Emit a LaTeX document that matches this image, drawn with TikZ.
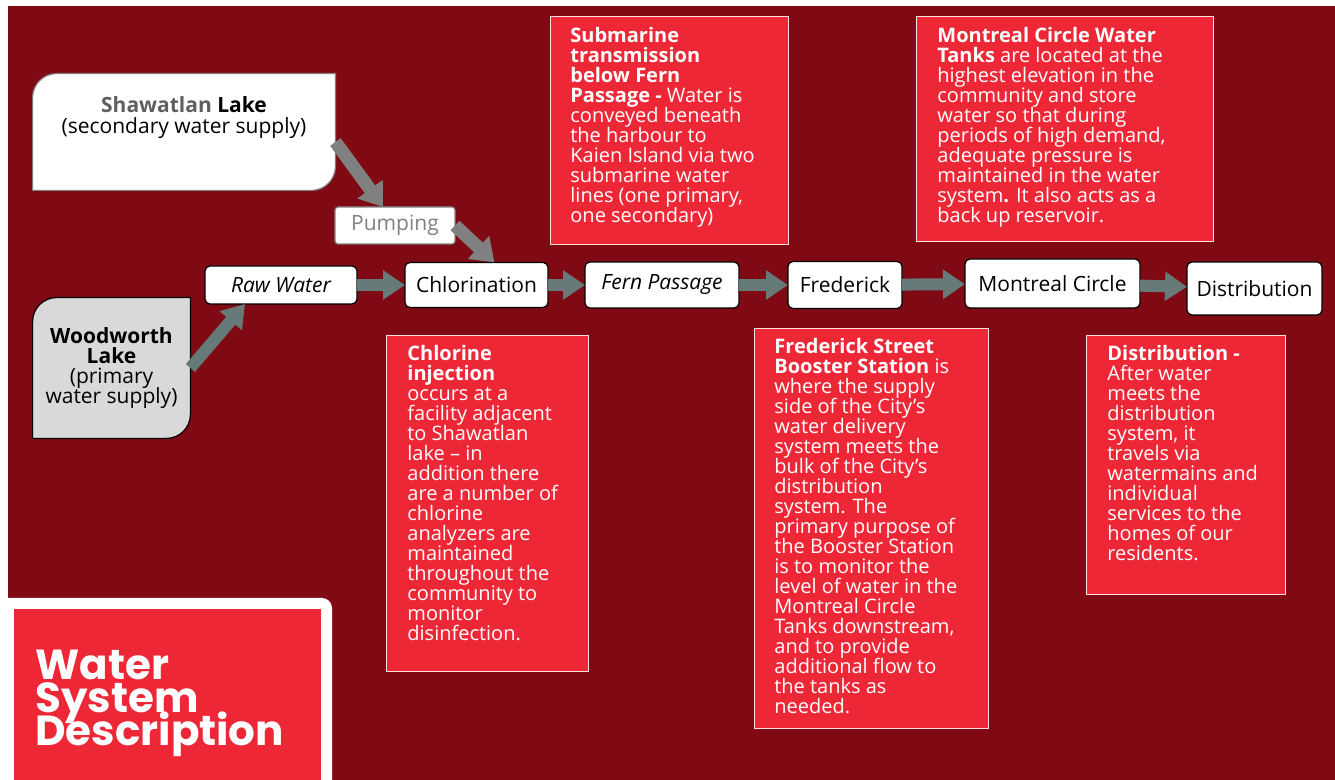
\documentclass[tikz,border=0pt]{standalone}
\usepackage{fontspec}
\setmainfont{Open Sans}
\newfontfamily\titlefont{Poppins}
\usetikzlibrary{arrows.meta, positioning}
\definecolor{bgred}{RGB}{128,10,20}
\definecolor{notered}{RGB}{238,39,55}
\definecolor{flowgray}{RGB}{102,123,121}
\definecolor{pumpgray}{RGB}{128,128,128}
\definecolor{lakegray}{RGB}{217,217,217}
\definecolor{namegray}{RGB}{95,95,95}
\newcommand{\tightlines}{\setlength{\lineskiplimit}{-20pt}}

\begin{document}
\begin{tikzpicture}[x=0.5pt, y=-0.5pt,
    flow/.style={draw=black, line width=0.6pt, fill=white, rounded corners=2.5pt, inner sep=0pt, outer sep=0pt, font=\fontsize{10.5}{12}\selectfont},
    flowarrow/.style={draw=flowgray, line width=6pt, -{Triangle[length=11pt, width=14pt]}},
    pumparrow/.style={draw=pumpgray, line width=6.5pt, -{Triangle[length=11pt, width=15pt]}},
    notebox/.style={draw=white!85!notered, line width=0.6pt, fill=notered, anchor=north west, inner sep=0pt},
    notetext/.style={anchor=north west, inner sep=0pt, align=left, text=white, font=\fontsize{10}{10}\selectfont\tightlines},
    laketext/.style={inner sep=0pt, align=center, font=\fontsize{10.5}{10.5}\selectfont\tightlines}]
    \useasboundingbox (0,0) rectangle (1335,780);
    \fill[bgred] (8,6) rectangle (1335,780);

    % the two lakes
    \node[minimum width=151pt, minimum height=58pt, inner sep=0pt] (shawatlan) at (184,132) {};
    \filldraw[fill=white, draw=gray, line width=0.6pt]
        ([yshift=-12pt]shawatlan.north west) arc[start angle=180, end angle=90, radius=12pt]
        -- (shawatlan.north east) -- ([yshift=12pt]shawatlan.south east)
        arc[start angle=0, end angle=-90, radius=12pt] -- (shawatlan.south west) -- cycle;
    \node[laketext, anchor=north, below=11.5pt of shawatlan.north] (shawatlantext)
        {\textbf{\textcolor{namegray}{Shawatlan} Lake}\\(secondary water supply)};

    \node[minimum width=78.5pt, minimum height=70pt, inner sep=0pt] (woodworth) at (111.5,368) {};
    \filldraw[fill=lakegray, draw=black, line width=0.6pt]
        ([yshift=-12pt]woodworth.north west) arc[start angle=180, end angle=90, radius=12pt]
        -- (woodworth.north east) -- ([yshift=12pt]woodworth.south east)
        arc[start angle=0, end angle=-90, radius=12pt] -- (woodworth.south west) -- cycle;
    \node[laketext, font=\fontsize{10.5}{10}\selectfont\tightlines] (woodworthtext) at (woodworth)
        {\textbf{Woodworth}\\\textbf{Lake}\\(primary\\water supply)};

    % flow line
    \node[flow, draw=gray, text=pumpgray, rounded corners=1.5pt, minimum width=60pt, minimum height=18.5pt] (pumping) at (395,225.5) {Pumping};
    \node[flow, minimum width=76pt, minimum height=19pt] (rawwater) at (281,285) {\itshape Raw Water};
    \node[flow, minimum width=71.5pt, minimum height=22.5pt, right=24pt of rawwater] (chlor) {Chlorination};
    \node[flow, minimum width=77pt, minimum height=23pt, right=18.5pt of chlor] (fern) {\itshape Fern Passage};
    \node[flow, minimum width=57pt, minimum height=23.5pt, right=24.5pt of fern] (fred) {Frederick};
    \node[flow, minimum width=87.5pt, minimum height=24.5pt, right=31.5pt of fred, yshift=0.75pt] (montreal) {Montreal Circle};
    \node[flow, minimum width=67.5pt, minimum height=26.5pt, right=23.5pt of montreal, yshift=-2.5pt] (distrib) {Distribution};

    \draw[pumparrow] ([yshift=-5pt]shawatlan.east) -- ([xshift=-6pt]pumping.north);
    \draw[pumparrow] (pumping.east) -- ([xshift=9pt]chlor.north);
    \draw[flowarrow] (woodworth.east) -- ([xshift=-18pt]rawwater.south);
    \draw[flowarrow] (rawwater) -- (chlor);
    \draw[flowarrow] (chlor) -- (fern);
    \draw[flowarrow] (fern) -- (fred);
    \draw[flowarrow] (fred) -- (montreal);
    \draw[flowarrow] (montreal) -- (distrib);

    % notes
    \node[notebox, minimum width=119pt, minimum height=114pt] (fernnote) at (550,16) {};
    \node[notetext] (ferntext) at ([shift={(10pt,-5.5pt)}]fernnote.north west) {%
        \textbf{Submarine}\\
        \textbf{transmission}\\
        \textbf{below Fern}\\
        \textbf{Passage -} Water is\\
        conveyed beneath\\
        the harbour to\\
        Kaien Island via two\\
        submarine water\\
        lines (one primary,\\
        one secondary)};

    \node[notebox, minimum width=148.5pt, minimum height=112.5pt] (tanksnote) at (916,16) {};
    \node[notetext] (tankstext) at ([shift={(10.5pt,-5.5pt)}]tanksnote.north west) {%
        \textbf{Montreal Circle Water}\\
        \textbf{Tanks} are located at the\\
        highest elevation in the\\
        community and store\\
        water so that during\\
        periods of high demand,\\
        adequate pressure is\\
        maintained in the water\\
        system\textbf{.} It also acts as a\\
        back up reservoir.};

    \node[notebox, minimum width=101pt, minimum height=168pt] (chlornote) at (386,335) {};
    \node[notetext] (chlortext) at ([shift={(10.5pt,-5pt)}]chlornote.north west) {%
        \textbf{Chlorine}\\
        \textbf{injection}\\
        occurs at a\\
        facility adjacent\\
        to Shawatlan\\
        lake – in\\
        addition there\\
        are a number of\\
        chlorine\\
        analyzers are\\
        maintained\\
        throughout the\\
        community to\\
        monitor\\
        disinfection.};

    \node[notebox, minimum width=117pt, minimum height=200pt] (frednote) at (754,328) {};
    \node[notetext] (fredtext) at ([shift={(10pt,-5pt)}]frednote.north west) {%
        \textbf{Frederick Street}\\
        \textbf{Booster Station} is\\
        where the supply\\
        side of the City’s\\
        water delivery\\
        system meets the\\
        bulk of the City’s\\
        distribution\\
        system. The\\
        primary purpose of\\
        the Booster Station\\
        is to monitor the\\
        level of water in the\\
        Montreal Circle\\
        Tanks downstream,\\
        and to provide\\
        additional flow to\\
        the tanks as\\
        needed.};

    \node[notebox, minimum width=99.5pt, minimum height=129.5pt] (distnote) at (1086,335) {};
    \node[notetext] (disttext) at ([shift={(10.5pt,-5pt)}]distnote.north west) {%
        \textbf{Distribution -}\\
        After water\\
        meets the\\
        distribution\\
        system, it\\
        travels via\\
        watermains and\\
        individual\\
        services to the\\
        homes of our\\
        residents.};

    % title
    \fill[white] (8,780) -- (8,598) -- ([xshift=-5pt]332,598) arc[start angle=90, end angle=0, radius=5pt] -- (332,780) -- cycle;
    \node[fill=notered, anchor=north west, minimum width=153.5pt, minimum height=85.5pt, inner sep=0pt] (titlepanel) at (14,609) {};
    \node[anchor=north west, inner sep=0pt, align=left, text=white, font=\titlefont\bfseries\fontsize{21}{16.5}\selectfont\tightlines]
        (title) at ([shift={(10.5pt,-20.5pt)}]titlepanel.north west) {Water\\System\\Description};
\end{tikzpicture}
\end{document}
